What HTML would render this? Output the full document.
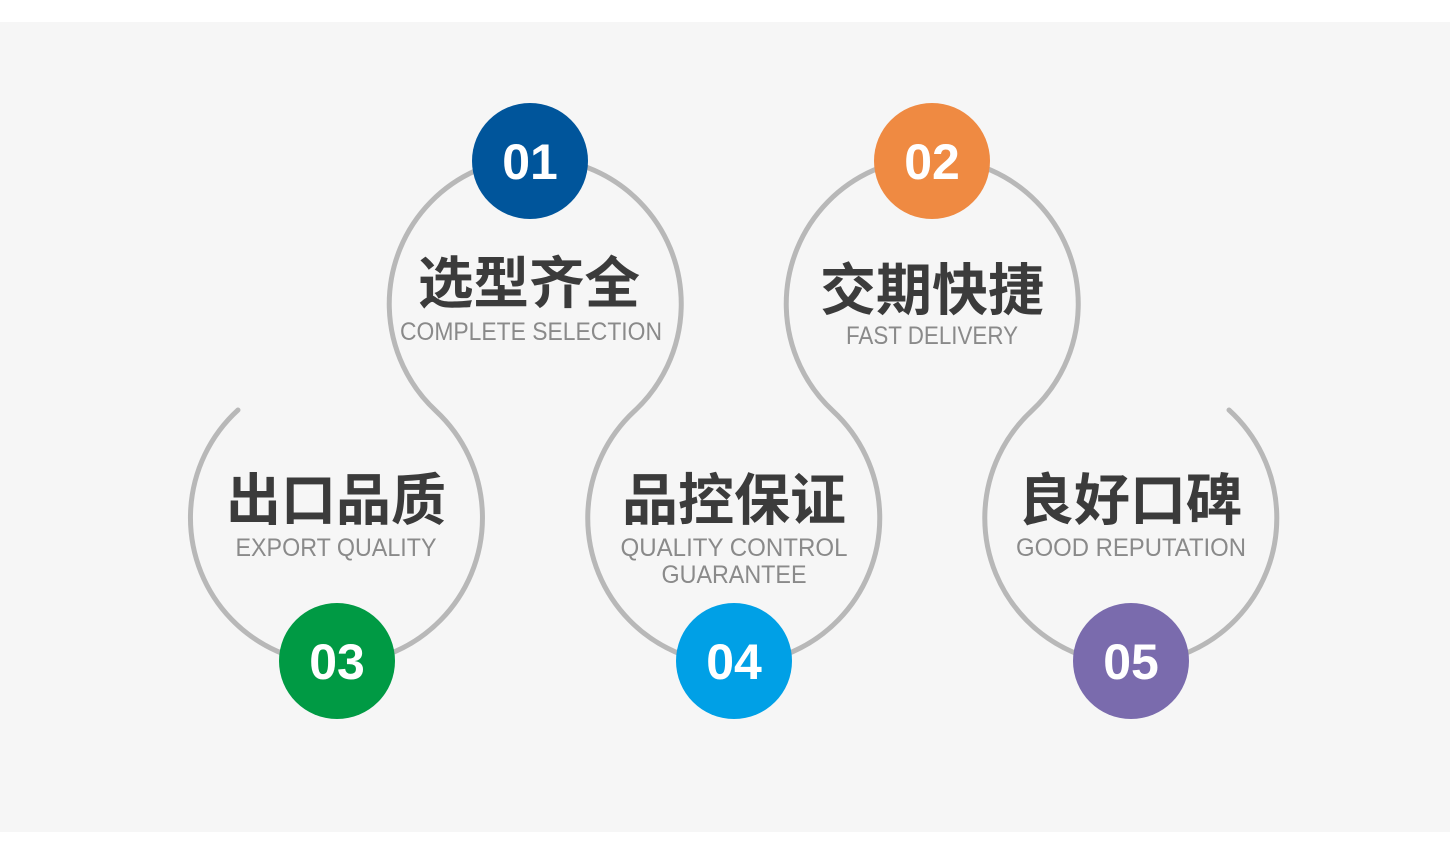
<!DOCTYPE html>
<html><head><meta charset="utf-8"><style>
html,body{margin:0;padding:0;background:#fff;}
svg{display:block;}
.cn{font-family:"Liberation Sans","Noto Sans CJK SC",sans-serif;font-weight:bold;font-size:56px;fill:#3b3b3b;}
.en{font-family:"Liberation Sans",sans-serif;font-size:25px;fill:#8a8a8a;}
.num{font-family:"Liberation Sans",sans-serif;font-weight:bold;font-size:50px;fill:#fff;}
</style></head><body>
<svg width="1450" height="860" viewBox="0 0 1450 860" xmlns="http://www.w3.org/2000/svg">
<rect x="0" y="0" width="1450" height="860" fill="#fff"/>
<rect x="0" y="22" width="1450" height="810" fill="#f6f6f6"/>
<path fill="none" stroke="#b8b8b8" stroke-width="5" stroke-linecap="round" stroke-linejoin="round"
 d="M238,410 A146,146 0 1 0 436,411 A146,146 0 1 1 634.5,411 A146,146 0 1 0 833,411 A146,146 0 1 1 1031.5,411 A146,146 0 1 0 1229,410"/>
<circle cx="530" cy="161" r="58" fill="#00559b"/>
<circle cx="932" cy="161" r="58" fill="#ef8a42"/>
<circle cx="337" cy="661" r="58" fill="#009a44"/>
<circle cx="734" cy="661" r="58" fill="#00a0e6"/>
<circle cx="1131" cy="661" r="58" fill="#7a6bad"/>
<g text-anchor="middle">
<text class="num" x="530" y="179">01</text>
<text class="num" x="932" y="179">02</text>
<text class="num" x="337" y="679">03</text>
<text class="num" x="734" y="679">04</text>
<text class="num" x="1131" y="679">05</text>
<text class="cn" x="529" y="303" textLength="222" lengthAdjust="spacingAndGlyphs">选型齐全</text>
<text class="en" x="531" y="340" textLength="262" lengthAdjust="spacingAndGlyphs">COMPLETE SELECTION</text>
<text class="cn" x="932" y="310" textLength="224" lengthAdjust="spacingAndGlyphs">交期快捷</text>
<text class="en" x="932" y="344" textLength="172" lengthAdjust="spacingAndGlyphs">FAST DELIVERY</text>
<text class="cn" x="336" y="520" textLength="220" lengthAdjust="spacingAndGlyphs">出口品质</text>
<text class="en" x="336" y="556" textLength="201" lengthAdjust="spacingAndGlyphs">EXPORT QUALITY</text>
<text class="cn" x="734" y="520" textLength="224" lengthAdjust="spacingAndGlyphs">品控保证</text>
<text class="en" x="734" y="556" textLength="227" lengthAdjust="spacingAndGlyphs">QUALITY CONTROL</text>
<text class="en" x="734" y="583" textLength="145" lengthAdjust="spacingAndGlyphs">GUARANTEE</text>
<text class="cn" x="1130" y="520" textLength="224" lengthAdjust="spacingAndGlyphs">良好口碑</text>
<text class="en" x="1131" y="556" textLength="230" lengthAdjust="spacingAndGlyphs">GOOD REPUTATION</text>
</g>
</svg>
</body></html>
